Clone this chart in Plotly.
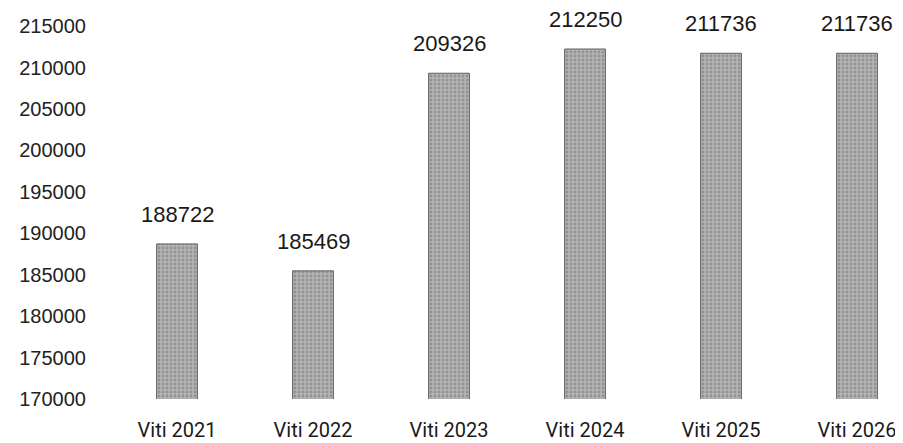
import plotly.graph_objects as go

categories = ["Viti 2021", "Viti 2022", "Viti 2023", "Viti 2024", "Viti 2025", "Viti 2026"]
values = [188722, 185469, 209326, 212250, 211736, 211736]
ytick_vals = [170000, 175000, 180000, 185000, 190000, 195000, 200000, 205000, 210000, 215000]
ytick_text = [str(v) for v in ytick_vals]

fig = go.Figure()
fig.add_trace(go.Bar(
    x=categories, y=values, width=0.3,
    marker=dict(color="#a8a8a8", line=dict(color="#606060", width=1),
                pattern=dict(shape=".", fgcolor="#707070", bgcolor="#b4b4b4", size=4, solidity=0.4)),
    hoverinfo="skip",
))
for c, v in zip(categories, values):
    fig.add_annotation(x=c, y=v, text=str(v), showarrow=False, yanchor="bottom", yshift=15,
                       font=dict(family="Liberation Sans, Arial", size=22, color="#1a1a1a"))

# page body has an 8px default margin; figure sized to fit the window
fig.update_layout(
    width=895, height=435,
    margin=dict(l=101, r=0, t=2, b=44),
    paper_bgcolor="white", plot_bgcolor="white",
    showlegend=False,
)
fig.update_xaxes(range=[-0.5, 5.338], showgrid=False, showline=False, zeroline=False,
                 ticks="", ticklabelstandoff=17,
                 tickfont=dict(family="Roboto, Liberation Sans", size=20, color="#1a1a1a"))
fig.update_yaxes(range=[170000, 216958], tickvals=ytick_vals, ticktext=ytick_text,
                 showgrid=False, showline=False, zeroline=False, ticks="", ticklabelstandoff=22,
                 tickfont=dict(family="Liberation Sans, Arial", size=20, color="#222222"))

fig.write_html("out.html")
